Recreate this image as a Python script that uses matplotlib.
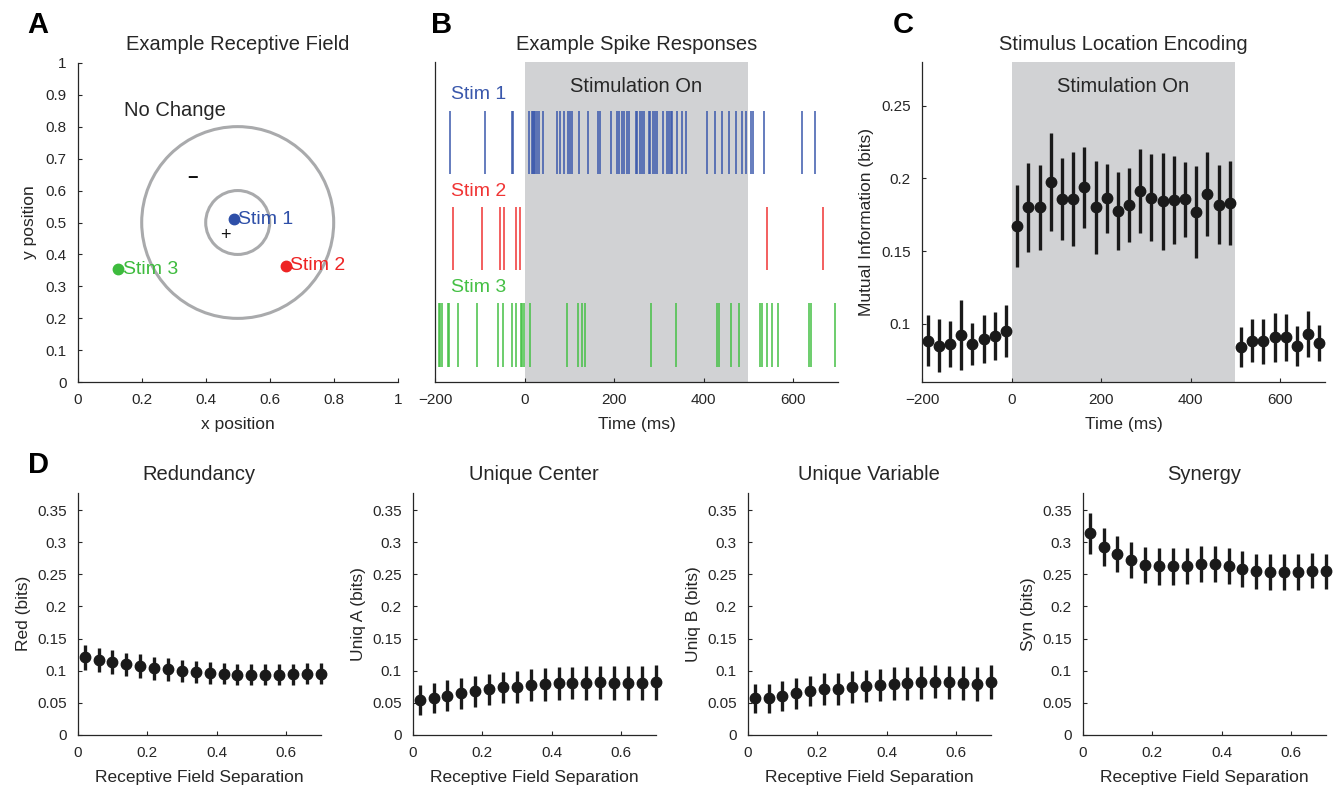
import matplotlib
matplotlib.use("Agg")
import matplotlib.pyplot as plt
from matplotlib.patches import Circle
import numpy as np

plt.rcParams['font.family'] = ['Liberation Sans', 'DejaVu Sans']
TXT = '#262626'
plt.rcParams['text.color'] = TXT
plt.rcParams['axes.labelcolor'] = TXT
plt.rcParams['xtick.color'] = TXT
plt.rcParams['ytick.color'] = TXT
plt.rcParams['axes.edgecolor'] = TXT

# ---------------- data ----------------
# Panel A
stim_names = ["Stim 1", "Stim 2", "Stim 3"]
stim_x = [0.487, 0.651, 0.127]
stim_y = [0.510, 0.364, 0.353]
stim_colors = ['#2E4FA8', '#EE2424', '#3DBB3D']
rf_center = (0.5, 0.5)
rf_radii = [0.1, 0.3]

# Panel B spike times (ms)
spikes_stim1 = [-167, -89, -29, -25, 10, 16, 19, 22, 24, 27, 33, 42, 72, 79, 87, 97, 101,
                107, 122, 142, 163, 169, 193, 206, 210, 218, 222, 229, 233, 249, 252, 258,
                263, 266, 278, 281, 286, 292, 295, 309, 319, 323, 327, 330, 341, 351, 360,
                407, 426, 440, 456, 472, 485, 494, 506, 511, 534, 620, 649]
spikes_stim2 = [-160, -94, -55, -47, -19, -10, 541, 666]
spikes_stim3 = [-191, -188, -185, -172, -168, -149, -106, -60, -49, -29, -18, -9, -5, -1,
                13, 94, 119, 129, 134, 283, 339, 430, 434, 460, 479, 526, 530, 541, 552,
                566, 635, 640, 694]
raster_colors = ['#3A58AC', '#F03434', '#45C045']

# Panel C
mi_time_pre = [-187.5, -162.5, -137.5, -112.5, -87.5, -62.5, -37.5, -12.5]
mi_pre = [0.0885, 0.0850, 0.0862, 0.0924, 0.0864, 0.0897, 0.0917, 0.0952]
mi_pre_err = [0.0175, 0.0180, 0.0158, 0.0243, 0.0145, 0.0164, 0.0165, 0.0180]
mi_time_on = [12.5, 37.5, 62.5, 87.5, 112.5, 137.5, 162.5, 187.5, 212.5, 237.5,
              262.5, 287.5, 312.5, 337.5, 362.5, 387.5, 412.5, 437.5, 462.5, 487.5]
mi_on = [0.1674, 0.1800, 0.1800, 0.1973, 0.1858, 0.1858, 0.1938, 0.1800, 0.1863, 0.1777,
         0.1817, 0.1911, 0.1867, 0.1842, 0.1853, 0.1856, 0.1770, 0.1895, 0.1819, 0.1830]
mi_on_err = [0.0282, 0.0304, 0.0292, 0.0337, 0.0283, 0.0320, 0.0280, 0.0320, 0.0236, 0.0269,
             0.0252, 0.0288, 0.0299, 0.0332, 0.0301, 0.0259, 0.0315, 0.0288, 0.0270, 0.0286]
mi_time_post = [512.5, 537.5, 562.5, 587.5, 612.5, 637.5, 662.5, 687.5]
mi_post = [0.0841, 0.0885, 0.0880, 0.0908, 0.0906, 0.0848, 0.0929, 0.0867]
mi_post_err = [0.0138, 0.0145, 0.0154, 0.0169, 0.0161, 0.0140, 0.0156, 0.0124]

# Panel D
rf_sep = [0.02, 0.06, 0.10, 0.14, 0.18, 0.22, 0.26, 0.30, 0.34, 0.38, 0.42, 0.46,
          0.50, 0.54, 0.58, 0.62, 0.66, 0.70]
red = [0.1208, 0.1161, 0.1136, 0.1100, 0.1073, 0.1037, 0.1021, 0.1001, 0.0985, 0.0970,
       0.0954, 0.0938, 0.0938, 0.0938, 0.0938, 0.0944, 0.0954, 0.0954]
red_err = [0.019, 0.0187, 0.0183, 0.018, 0.018, 0.0177, 0.0175, 0.0172, 0.017, 0.017,
           0.0168, 0.0166, 0.0165, 0.0164, 0.0163, 0.0162, 0.0162, 0.0162]
uniq_a = [0.0539, 0.0576, 0.0612, 0.0648, 0.0680, 0.0710, 0.0741, 0.0752, 0.0773, 0.0788,
          0.0804, 0.0809, 0.0809, 0.0819, 0.0809, 0.0809, 0.0809, 0.0819]
uniq_a_err = [0.0233, 0.0235, 0.0237, 0.024, 0.0242, 0.0244, 0.0246, 0.0248, 0.025, 0.0252,
              0.0254, 0.0256, 0.0258, 0.026, 0.0262, 0.0264, 0.0266, 0.0267]
uniq_b = [0.0570, 0.0570, 0.0607, 0.0648, 0.0684, 0.0716, 0.0716, 0.0747, 0.0767, 0.0773,
          0.0799, 0.0804, 0.0824, 0.0830, 0.0819, 0.0804, 0.0799, 0.0824]
uniq_b_err = [0.0228, 0.023, 0.0233, 0.0236, 0.0239, 0.0242, 0.0244, 0.0246, 0.0249, 0.0251,
              0.0253, 0.0255, 0.0257, 0.0259, 0.0261, 0.0262, 0.0263, 0.0264]
syn = [0.3137, 0.2924, 0.2816, 0.2722, 0.2644, 0.2623, 0.2623, 0.2634, 0.2660, 0.2665,
       0.2629, 0.2582, 0.2546, 0.2535, 0.2535, 0.2535, 0.2556, 0.2546]
syn_err = [0.032, 0.0293, 0.028, 0.028, 0.0285, 0.0285, 0.0285, 0.0283, 0.0283, 0.0283,
           0.028, 0.0278, 0.0276, 0.0275, 0.0275, 0.0275, 0.0275, 0.0275]

d_titles = ["Redundancy", "Unique Center", "Unique Variable", "Synergy"]
d_ylabels = ["Red (bits)", "Uniq A (bits)", "Uniq B (bits)", "Syn (bits)"]
d_values = [red, uniq_a, uniq_b, syn]
d_errors = [red_err, uniq_a_err, uniq_b_err, syn_err]

# ---------------- figure ----------------
W, H = 1333, 785
fig = plt.figure(figsize=(W / 100, H / 100), dpi=100)


def ax_px(left, top, right, bottom):
    return fig.add_axes([left / W, 1 - bottom / H, (right - left) / W, (bottom - top) / H])


def style(ax):
    ax.spines['top'].set_visible(False)
    ax.spines['right'].set_visible(False)
    ax.spines['left'].set_linewidth(0.9)
    ax.spines['bottom'].set_linewidth(0.9)
    ax.tick_params(direction='in', length=3, width=0.8, labelsize=11)
    ax.tick_params(axis='x', pad=8)
    ax.tick_params(axis='y', pad=8)


def fmt(v, pos=None):
    return '%g' % round(v, 4)


TITLE_FS = 14.5
LABEL_FS = 12.5
SHADE = '#D1D2D4'
PT = '#1A1A1A'
XLP = 7
YLP = 4

# ---- Panel A ----
axA = ax_px(77.7, 62.7, 397.7, 382.3)
style(axA)
for r in rf_radii:
    axA.add_patch(Circle(rf_center, r, fill=False, ec='#A9AAAC', lw=2.2))
for name, x, y, c in zip(stim_names, stim_x, stim_y, stim_colors):
    axA.plot(x, y, 'o', color=c, ms=7.5, mec=c, zorder=3)
    axA.text(x + 0.014, y, name, color=c, fontsize=14, va='center', ha='left')
axA.text(0.146, 0.85, "No Change", fontsize=14.5, va='center', ha='left')
axA.text(0.46, 0.458, "+", fontsize=13, va='center', ha='center', color='#111111')
axA.text(0.359, 0.637, "\u2212", fontsize=13, va='center', ha='center', color='#111111',
         fontweight='bold')
axA.set_xlim(0, 1)
axA.set_ylim(0, 1)
axA.set_xticks(np.arange(0, 1.01, 0.2))
axA.set_yticks(np.arange(0, 1.01, 0.1))
axA.xaxis.set_major_formatter(plt.FuncFormatter(fmt))
axA.yaxis.set_major_formatter(plt.FuncFormatter(fmt))
axA.set_xlabel("x position", fontsize=LABEL_FS, labelpad=XLP)
axA.set_ylabel("y position", fontsize=LABEL_FS, labelpad=YLP + 2)
axA.set_title("Example Receptive Field", fontsize=TITLE_FS, pad=9)

# ---- Panel B ----
axB = ax_px(435, 62, 838, 382)
style(axB)
axB.axvspan(0, 500, color=SHADE, lw=0, zorder=0)
rows = [(6.5, 8.47), (3.5, 5.47), (0.47, 2.47)]
label_y = [8.97, 5.95, 2.94]
for times, (y0, y1), c, name, ly in zip([spikes_stim1, spikes_stim2, spikes_stim3], rows,
                                        raster_colors, stim_names, label_y):
    axB.vlines(times, y0, y1, color=c, lw=1.1, zorder=2)
    axB.text(-164, ly, name, color=c, fontsize=14, va='center', ha='left')
axB.text(250, 9.23, "Stimulation On", fontsize=14.5, ha='center', va='center')
axB.set_xlim(-200, 700)
axB.set_ylim(0, 10)
axB.set_yticks([])
axB.set_xticks([-200, 0, 200, 400, 600])
axB.set_xlabel("Time (ms)", fontsize=LABEL_FS, labelpad=XLP)
axB.set_title("Example Spike Responses", fontsize=TITLE_FS, pad=9)

# ---- Panel C ----
axC = ax_px(922, 62, 1325, 382)
style(axC)
axC.axvspan(0, 500, color=SHADE, lw=0, zorder=0)
for t, v, e in [(mi_time_pre, mi_pre, mi_pre_err), (mi_time_on, mi_on, mi_on_err),
                (mi_time_post, mi_post, mi_post_err)]:
    axC.errorbar(t, v, yerr=e, fmt='o', color=PT, ms=7.5, elinewidth=2.4, capsize=0, zorder=3)
axC.text(250, 0.2634, "Stimulation On", fontsize=14.5, ha='center', va='center')
axC.set_xlim(-200, 700)
axC.set_ylim(0.06, 0.28)
axC.set_xticks([-200, 0, 200, 400, 600])
axC.set_yticks([0.1, 0.15, 0.2, 0.25])
axC.yaxis.set_major_formatter(plt.FuncFormatter(fmt))
axC.set_xlabel("Time (ms)", fontsize=LABEL_FS, labelpad=XLP)
axC.set_ylabel("Mutual Information (bits)", fontsize=LABEL_FS, labelpad=YLP + 1)
axC.set_title("Stimulus Location Encoding", fontsize=TITLE_FS, pad=9)

# ---- Panel D ----
d_lefts = [77.7, 412.7, 747.7, 1082.7]
for left, title, ylab, vals, errs in zip(d_lefts, d_titles, d_ylabels, d_values, d_errors):
    ax = ax_px(left, 492.7, left + 243, 735)
    style(ax)
    ax.errorbar(rf_sep, vals, yerr=errs, fmt='o', color=PT, ms=7.5, elinewidth=2.4,
                capsize=0, zorder=3, clip_on=False)
    ax.set_xlim(0, 0.7)
    ax.set_ylim(0, 0.377)
    ax.set_xticks([0, 0.2, 0.4, 0.6])
    ax.set_yticks(np.arange(0, 0.351, 0.05))
    ax.xaxis.set_major_formatter(plt.FuncFormatter(fmt))
    ax.yaxis.set_major_formatter(plt.FuncFormatter(fmt))
    ax.set_xlabel("Receptive Field Separation", fontsize=LABEL_FS, labelpad=XLP)
    ax.set_ylabel(ylab, fontsize=LABEL_FS, labelpad=YLP)
    ax.set_title(title, fontsize=TITLE_FS, pad=9)

# panel letters
for letter, x, y in [("A", 27, 33), ("B", 431, 33), ("C", 893, 33), ("D", 28, 473)]:
    fig.text(x / W, 1 - y / H, letter, fontsize=21, fontweight='bold', color='black',
             ha='left', va='baseline')

fig.savefig("out.png", dpi=100)
